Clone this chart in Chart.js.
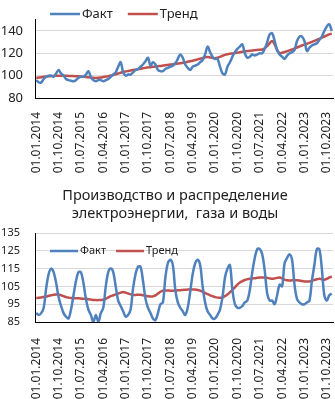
<!DOCTYPE html>
<html>
<head>
<meta charset="utf-8">
<script src="https://cdn.jsdelivr.net/npm/chart.js@4.4.1/dist/chart.umd.min.js"></script>
<style>
    body { margin: 0; background: #fff; }
    #page { position: relative; width: 335px; height: 399px; overflow: hidden; }
    #industrieChart { position: absolute; left: 0; top: 0; }
    #energieChart { position: absolute; left: 0; top: 180px; }
</style>
</head>
<body>
<div id="page">
    <canvas id="industrieChart" width="335" height="176"></canvas>
    <canvas id="energieChart" width="335" height="219"></canvas>
</div>
<script>
// categories : un point par mois, 01.2014 - 12.2023
var aMois = [];
for (var an = 2014; an <= 2023; an++) {
    for (var m = 1; m <= 12; m++) {
        aMois.push('01.' + (m < 10 ? '0' + m : m) + '.' + an);
    }
}
var PAS_ETIQUETTE = 9;

var aSeries = ['Факт', 'Тренд'];
var aTitreEnergie = ['Производство и распределение', 'электроэнергии,  газа и воды'];

// graphique du haut
var aFaitIndustrie = [
    96, 94, 94, 97, 99, 100, 100, 99, 102, 105, 102, 100,
    97, 96, 95.5, 95, 96, 98, 99, 99, 101, 104, 99, 96,
    95, 96, 96, 95, 96, 97, 99, 101, 103, 108, 112, 103,
    100, 101, 101, 103, 105, 106, 108, 110, 113, 116, 109, 112,
    110, 105, 104, 104, 106, 107, 108, 109, 111, 115, 119, 116,
    110, 107, 105, 108, 109, 110, 112, 114, 119, 126, 121, 117,
    115, 115, 108, 102, 101, 108, 112, 117, 121, 124, 126, 128,
    120, 116, 117, 119, 118, 119, 120, 120, 124, 130, 137, 138,
    131, 123, 119, 117, 115, 118, 120, 121, 123, 131, 135, 135,
    131, 122, 125, 127, 128, 129, 132, 135, 140, 144, 146, 140
];
var aTrendIndustrie = [
    98, 98.3, 98.6, 99, 99.3, 99.5, 99.7, 99.8, 99.9, 100, 100, 100,
    99.9, 99.8, 99.7, 99.6, 99.5, 99.4, 99.2, 99, 98.8, 98.5, 98.3, 98.1,
    98, 98.1, 98.4, 98.8, 99.2, 99.6, 100.1, 100.6, 101.2, 101.9, 102.6, 103.3,
    103.8, 104.2, 104.6, 105, 105.4, 105.8, 106.2, 106.6, 107, 107.3, 107.6, 107.9,
    108.2, 108.5, 108.7, 109, 109.3, 109.6, 109.9, 110.2, 110.5, 110.8, 111.1, 111.5,
    111.9, 112.4, 112.9, 113.4, 114, 114.6, 115.2, 115.8, 116.4, 116.7, 116.3, 115.9,
    115.6, 116, 116.8, 117.8, 118.6, 119.2, 119.6, 119.9, 120.2, 120.6, 121, 121.4,
    121.8, 122, 122.3, 122.6, 122.8, 123, 123.2, 123.4, 124.5, 126.5, 129, 131,
    128, 123, 120.2, 120.5, 121.2, 121.9, 122.6, 123.4, 124.3, 125.2, 126.1, 127,
    127.8, 128.6, 129.4, 130.3, 131.2, 132.1, 133, 134, 135, 136, 137, 137.6
];
var aTicksIndustrie = [80, 100, 120, 140];

// graphique du bas : electricite, gaz, eau
var aFaitEnergie = [
    90, 89, 90, 93, 104, 112, 115, 113, 107, 99, 94, 90,
    88, 87, 92, 100, 108, 113, 113, 107, 98, 92, 89, 85,
    89, 85, 90, 93, 105, 113, 115, 113, 105, 97, 94, 91,
    88, 89, 92, 104, 112, 116, 116, 108, 98, 93, 90, 87,
    86, 90, 95, 96, 110, 118, 120, 117, 103, 96, 93, 91,
    89, 93, 102, 112, 118, 120, 117, 105, 96, 91, 89, 87,
    87, 89, 92, 99, 110, 115, 117, 103, 95, 93, 93, 94,
    96, 97, 103, 113, 121, 126, 126, 123, 114, 101, 97, 97,
    95, 100, 106, 105, 118, 121, 123, 120, 106, 98, 96, 95,
    95, 96, 97, 108, 117, 126, 126, 115, 100, 97, 100, 101
];
var aTrendEnergie = [
    98.5, 98.6, 98.8, 99, 99.3, 99.7, 100, 100.3, 100.5, 100.4, 100, 99.5,
    99, 98.7, 98.5, 98.4, 98.3, 98.3, 98.2, 98, 98, 97.8, 97.6, 97.4,
    97.3, 97.3, 97.4, 97.5, 98, 98.8, 99.5, 100, 100.5, 101, 101.5, 101.8,
    101.5, 101, 100.5, 100.2, 100.2, 100.3, 100.3, 100, 99.8, 99.5, 99.3, 99.4,
    100, 101, 102, 102.6, 102.7, 102.7, 102.6, 102.6, 102.7, 102.8, 102.9, 103,
    103.1, 103.2, 103.3, 103.3, 103.2, 103, 102.6, 102, 101.3, 100.6, 100, 99.5,
    99, 98.7, 98.6, 98.8, 99.5, 100.5, 101.7, 103, 104.5, 106, 107.2, 108,
    108.6, 109, 109.3, 109.5, 109.6, 109.8, 110, 110, 110, 109.8, 109.5, 109.3,
    109.5, 109.8, 110, 109.5, 108.8, 108.4, 108.3, 108.4, 108.5, 108.5, 108.3, 108,
    107.8, 107.7, 107.8, 108.2, 108.6, 109, 109.3, 109, 108.8, 109.3, 110, 110.6
];
var aTicksEnergie = [85, 95, 105, 115, 125, 135];

var BLEU = '#4F81BD';
var ROUGE = '#C0504D';
var TEXTE = '#222';

Chart.defaults.font.family = '"Noto Sans", sans-serif';
Chart.defaults.color = TEXTE;

// legende dessinee dans la zone du graphique
var legendeInterne = {
    id: 'legendeInterne',
    afterDraw: function (chart, args, opts) {
        var ctx = chart.ctx;
        var x = opts.x;
        ctx.save();
        ctx.font = opts.taille + 'px "Noto Sans"';
        ctx.textBaseline = 'middle';
        chart.data.datasets.forEach(function (ds) {
            ctx.strokeStyle = ds.borderColor;
            ctx.lineWidth = ds.borderWidth;
            ctx.beginPath();
            ctx.moveTo(x, opts.y);
            ctx.lineTo(x + opts.longueur, opts.y);
            ctx.stroke();
            x += opts.longueur + 2;
            ctx.fillStyle = TEXTE;
            ctx.fillText(ds.label, x, opts.y);
            x += ctx.measureText(ds.label).width + opts.ecart;
        });
        ctx.restore();
    }
};

// titre sur deux lignes, centre comme dans Excel
var titreInterne = {
    id: 'titreInterne',
    afterDraw: function (chart, args, opts) {
        if (!opts.afficher) {
            return;
        }
        var ctx = chart.ctx;
        ctx.save();
        ctx.font = opts.taille + 'px "Noto Sans"';
        ctx.fillStyle = TEXTE;
        ctx.textAlign = 'center';
        ctx.textBaseline = 'alphabetic';
        aTitreEnergie.forEach(function (sLigne, k) {
            ctx.fillText(sLigne, opts.x, opts.y + k * opts.interligne);
        });
        ctx.restore();
    }
};

function creerGraphique(eCanvas, aFait, aTrend, fMin, fMax, aTicks, oConfig) {
    return new Chart(eCanvas, {
        type: 'line',
        data: {
            labels: aMois,
            datasets: [{
                label: aSeries[0],
                data: aFait,
                borderColor: BLEU,
                borderWidth: 2.5,
                pointRadius: 0,
                tension: 0.35
            }, {
                label: aSeries[1],
                data: aTrend,
                borderColor: ROUGE,
                borderWidth: 2.5,
                pointRadius: 0,
                tension: 0.35
            }]
        },
        options: {
            responsive: false,
            animation: false,
            devicePixelRatio: 1,
            layout: {padding: {top: oConfig.hautZone, right: 2, left: 0, bottom: 0}},
            plugins: {
                legend: {display: false},
                tooltip: {enabled: false},
                titreInterne: oConfig.titre,
                legendeInterne: oConfig.legende
            },
            scales: {
                x: {
                    offset: true,
                    grid: {display: false},
                    border: {display: true, color: '#000', width: 1},
                    ticks: {
                        autoSkip: false,
                        minRotation: 90,
                        maxRotation: 90,
                        padding: oConfig.paddingX,
                        font: {size: oConfig.tailleX},
                        callback: function (val, index) {
                            return index % PAS_ETIQUETTE === 0 ? aMois[index] : '';
                        }
                    },
                    afterFit: function (scale) {
                        scale.height = oConfig.hauteurX;
                        scale.paddingRight = 0;
                    }
                },
                y: {
                    min: fMin,
                    max: fMax,
                    border: {display: true, color: '#000', width: 1},
                    grid: {color: '#d9d9d9', drawTicks: false},
                    afterBuildTicks: function (scale) {
                        scale.ticks = aTicks.map(function (v) {
                            return {value: v};
                        });
                    },
                    ticks: {
                        padding: oConfig.paddingY,
                        font: {size: oConfig.tailleY}
                    },
                    afterFit: function (scale) {
                        scale.width = 35;
                    }
                }
            }
        },
        plugins: [legendeInterne, titreInterne]
    });
}

var oIndustrieChart = creerGraphique(document.getElementById('industrieChart'),
    aFaitIndustrie, aTrendIndustrie, 80, 150, aTicksIndustrie, {
        titre: {afficher: false},
        legende: {x: 50, y: 14, longueur: 30, ecart: 15, taille: 13},
        hautZone: 0,
        hauteurX: 78,
        paddingX: 6,
        tailleX: 12,
        paddingY: 12,
        tailleY: 13
    });

var oEnergieChart = creerGraphique(document.getElementById('energieChart'),
    aFaitEnergie, aTrendEnergie, 85, 135, aTicksEnergie, {
        titre: {afficher: true, x: 175, y: 20, interligne: 17.5, taille: 14.5},
        legende: {x: 50, y: 71, longueur: 28, ecart: 10, taille: 11},
        hautZone: 53,
        hauteurX: 77,
        paddingX: 8,
        tailleX: 12,
        paddingY: 15,
        tailleY: 11
    });
</script>
</body>
</html>
